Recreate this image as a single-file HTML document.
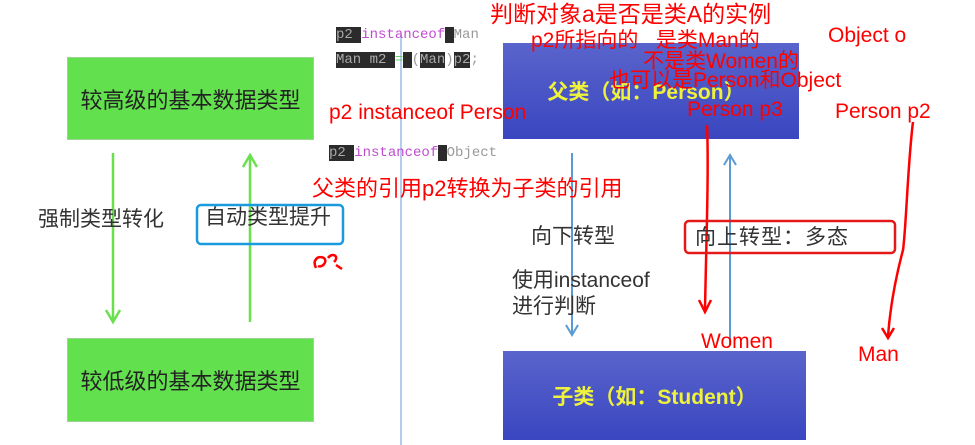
<!DOCTYPE html>
<html><head><meta charset="utf-8"><style>
body{margin:0;width:975px;height:445px;background:#fff;position:relative;overflow:hidden;font-family:"Liberation Sans","Noto Sans CJK SC",sans-serif}
.a{position:absolute;white-space:nowrap}
.r{color:#f00;font-size:21px;line-height:24px}
.g{color:#333;font-size:21px;line-height:24px}
.c{font-family:"Liberation Mono",monospace;font-size:14px;color:#999}
.k{background:#2b2b2b;color:#aaa}
.p{color:#c04bd0}
.gb{position:absolute;background:#62e04e;border:1px solid #9ad48e;color:#222;font-size:22px;display:flex;align-items:center;justify-content:center}
.bb{position:absolute;background:linear-gradient(#5a64cc,#3a46c0);color:#eef23a;font-weight:bold;font-size:21px;display:flex;align-items:center;justify-content:center}
</style></head><body>
<div class="gb" style="left:67px;top:57px;width:245px;height:81px">较高级的基本数据类型</div>
<div class="gb" style="left:67px;top:338px;width:245px;height:82px">较低级的基本数据类型</div>
<div class="bb" style="left:503px;top:43px;width:296px;height:96px;padding-right:10px;box-sizing:border-box">父类（如：Person）</div>
<div class="bb" style="left:503px;top:351px;width:303px;height:89px">子类（如：Student）</div>
<svg class="a" style="left:0;top:0" width="975" height="445">
<g stroke="#6be04e" stroke-width="2.5" fill="none">
<line x1="113" y1="153" x2="113" y2="322"/><polyline points="106,310 113,322 120,310"/>
<line x1="250" y1="322" x2="250" y2="155"/><polyline points="243,167 250,155 257,167"/>
</g>
<line x1="401" y1="35" x2="401" y2="445" stroke="#9bbbe8" stroke-width="1.5"/>
<g stroke="#5b9bd5" stroke-width="2" fill="none">
<line x1="572" y1="153" x2="572" y2="335"/><polyline points="566,325 572,335 578,325"/>
<line x1="730" y1="345" x2="730" y2="155"/><polyline points="724,165 730,155 736,165"/>
</g>
<g stroke="#f00" stroke-width="2.5" fill="none">
<path d="M707,125 C709,170 706,250 705,310"/><polyline points="699,300 705,312 711,300"/>
<path d="M913,122 C908,160 906,230 903,250 C895,280 890,310 888,336"/><polyline points="882,328 888,338 894,328"/>
<path d="M316,268 C312,260 318,255 324,258 C328,262 322,268 318,266 M328,258 C332,252 340,256 334,262 M336,265 L342,269"/>
</g>
<rect x="197" y="205" width="146" height="39" rx="4" fill="none" stroke="#1a9be0" stroke-width="2.5"/>
<rect x="685" y="221" width="210" height="32" rx="4" fill="none" stroke="#e41a1a" stroke-width="2.5"/>
</svg>
<div class="a g" style="left:38px;top:208px">强制类型转化</div>
<div class="a g" style="left:205px;top:206px">自动类型提升</div>
<div class="a g" style="left:531px;top:225px">向下转型</div>
<div class="a g" style="left:512px;top:269px">使用instanceof</div>
<div class="a g" style="left:512px;top:295px">进行判断</div>
<div class="a g" style="left:695px;top:226px;letter-spacing:1px">向上转型：多态</div>
<div class="a c" style="left:336px;top:27px"><span class="k">p2 </span><span class="p">instanceof</span><span class="k"> </span>Man</div>
<div class="a c" style="left:336px;top:52px"><span class="k">Man m2 </span><span style="color:#6c6">=</span><span class="k"> </span>(<span class="k">Man</span>)<span class="k">p2</span>;</div>
<div class="a c" style="left:329px;top:145px"><span class="k">p2 </span><span class="p">instanceof</span><span class="k"> </span>Object</div>
<div class="a r" style="left:490px;top:2px;font-size:23px">判断对象a是否是类A的实例</div>
<div class="a r" style="left:531px;top:29px">p2所指向的&nbsp;&nbsp; 是类Man的</div>
<div class="a r" style="left:643px;top:50px">不是类Women的</div>
<div class="a r" style="left:609px;top:69px">也可以是Person和Object</div>
<div class="a r" style="left:329px;top:101px">p2 instanceof Person</div>
<div class="a r" style="left:312px;top:177px;font-size:22px">父类的引用p2转换为子类的引用</div>
<div class="a r" style="left:828px;top:24px">Object o</div>
<div class="a r" style="left:835px;top:100px">Person p2</div>
<div class="a r" style="left:687px;top:98px">Person p3</div>
<div class="a r" style="left:701px;top:330px">Women</div>
<div class="a r" style="left:858px;top:343px">Man</div>
</body></html>
